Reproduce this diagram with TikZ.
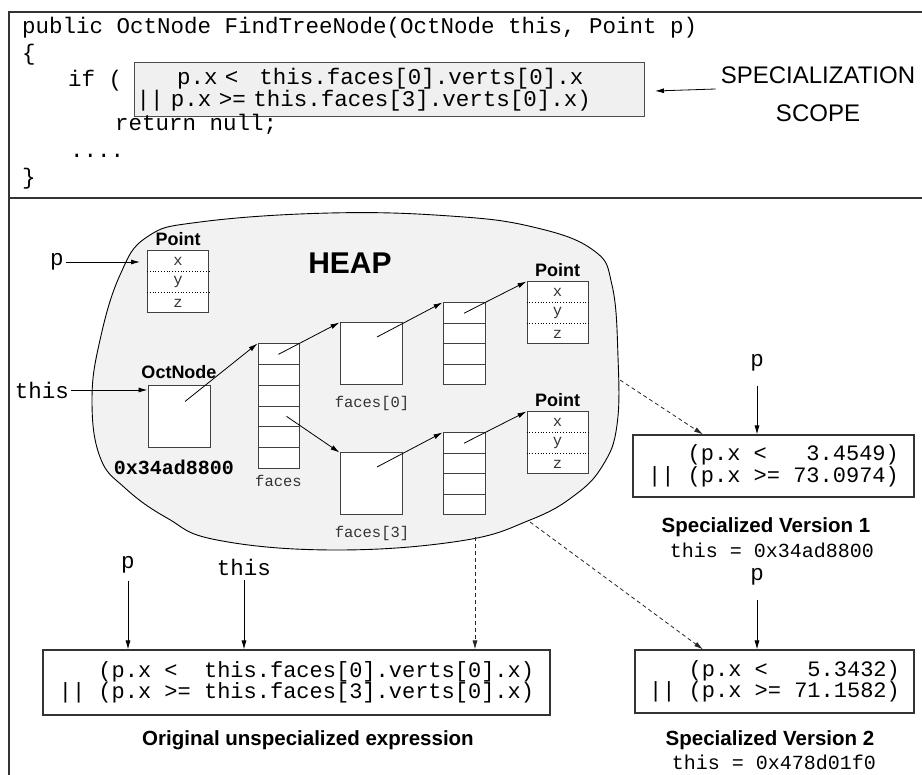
\documentclass[tikz,border=0pt]{standalone}
\usepackage{fontspec}
\setmainfont{Liberation Sans}
\setmonofont{Liberation Mono}
\usetikzlibrary{arrows.meta,positioning,calc}
\newcommand{\codesize}{\ttfamily\fontsize{22.5}{20}\selectfont}
\newcommand{\exprsize}{\ttfamily\fontsize{22}{21.5}\selectfont}
\newcommand{\fieldsize}{\ttfamily\fontsize{15.5}{16}\selectfont}
\newcommand{\addrsize}{\ttfamily\fontsize{20}{22}\selectfont}
\newcommand{\objsize}{\bfseries\fontsize{18}{20}\selectfont}
\newcommand{\capsize}{\bfseries\fontsize{20.5}{22}\selectfont}
\tikzstyle{frame}=[draw=black!80, line width=1.2pt]
\tikzstyle{codeline}=[anchor=base west, inner sep=0pt, font=\codesize]
\tikzstyle{varlbl}=[inner sep=2pt, font=\codesize]
\tikzstyle{scopebox}=[draw=black!70, line width=1pt, fill=black!6, font=\codesize, align=left, text width=506pt, inner xsep=2pt, minimum height=54pt]
\tikzstyle{exprbox}=[draw=black!80, line width=1.1pt, fill=white, font=\exprsize, align=left]
\tikzstyle{heap}=[draw=black, line width=0.9pt, fill=black!5]
\tikzstyle{obj}=[draw=black!75, fill=white, line width=1pt, minimum width=62pt, minimum height=62pt, inner sep=0pt]
\tikzstyle{ptbox}=[obj, minimum width=61pt]
\tikzstyle{cell}=[draw=black!75, fill=white, line width=1pt, minimum width=41pt, minimum height=20.67pt, inner sep=0pt]
\tikzstyle{fieldtxt}=[inner sep=0pt, font=\fieldsize, text=black!80]
\tikzstyle{objlbl}=[inner sep=0pt, font=\objsize]
\tikzstyle{caption}=[inner sep=0pt, font=\capsize]
\tikzstyle{addr}=[inner sep=0pt, font=\addrsize]
\tikzstyle{arr}=[-{Latex[length=9pt,width=5pt]}, line width=0.8pt]
\tikzstyle{dasharr}=[arr, dash pattern=on 4pt off 3pt, draw=black!85]

\begin{document}
\begin{tikzpicture}[x=1pt,y=-1pt]
\useasboundingbox (0,0) rectangle (922,775);
% frame round the code and the heap
\draw[frame] (922,12) -- (9,12) -- (9,775);
\draw[frame] (9,198) -- (922,198);

% source code
\node[codeline] (sig) at (22,34) {public OctNode FindTreeNode(OctNode this, Point p)};
\node[codeline] (lbrace) at (22,61) {\{};
\node[scopebox, anchor=north west] (scope) at (134,62) {\phantom{000}p.x <\phantom{0} this.faces[0].verts[0].x\\|| p.x >= this.faces[3].verts[0].x)};
\node[codeline] (iftxt) at (68,87) {if (};
\node[codeline] (retn) at (115,131) {return null;};
\node[codeline] (dots) at (70,158) {....};
\node[codeline] (rbrace) at (22,185) {\}};
\node[font=\fontsize{24}{38}\selectfont, align=center, inner sep=0pt] (spec) at (818,94) {SPECIALIZATION\\SCOPE};
\draw[arr] ([xshift=-5pt,yshift=5pt]spec.west) -- ([xshift=10pt,yshift=-1.5pt]scope.east);

% heap
\draw[heap] plot[smooth cycle, tension=0.7] coordinates {(147,237) (200,222) (330,213) (450,216) (533,227) (593,250) (612,285) (618,357) (617,425) (603,465) (575,495) (530,520) (460,541) (333,550) (217,540) (167,518) (125,488) (100,457) (92,400) (100,340) (120,275)};
\node[inner sep=0pt, font=\bfseries\fontsize{30}{32}\selectfont] (heaplbl) at (350,263) {HEAP};

\foreach \nm/\cx/\cy in {pa/178/282, pb/557.5/313, pc/557.5/443}{
  \node[ptbox] (\nm) at (\cx,\cy) {};
  \node[objlbl, above=4.5pt of \nm] (\nm-lbl) {Point};
  \draw[dotted, line width=0.8pt] ($(\nm.north west)!0.333!(\nm.south west)$) -- ($(\nm.north east)!0.333!(\nm.south east)$);
  \draw[dotted, line width=0.8pt] ($(\nm.north west)!0.667!(\nm.south west)$) -- ($(\nm.north east)!0.667!(\nm.south east)$);
  \node[fieldtxt] (\nm-x) at ($(\nm.north)!0.1667!(\nm.south)$) {x};
  \node[fieldtxt] (\nm-y) at ($(\nm.north)!0.5!(\nm.south)$) {y};
  \node[fieldtxt] (\nm-z) at ($(\nm.north)!0.8333!(\nm.south)$) {z};
}

\node[obj] (oct) at (179,416.5) {};
\node[objlbl, above=6pt of oct] (octlbl) {OctNode};
\node[addr, font=\addrsize\bfseries] (octaddr) at (174,467) {0x34ad8800};

\foreach \i in {0,...,5}
  \node[cell] (faces\i) at (278.5,354.33+20.67*\i) {};
\node[fieldtxt] (faceslbl) at (278.5,481) {faces};

\node[obj] (f0) at (371,354) {};
\node[fieldtxt] (f0lbl) at (372,403) {faces[0]};
\node[obj] (f3) at (371,484) {};
\node[fieldtxt] (f3lbl) at (372,533) {faces[3]};

\foreach \i in {0,...,3}{
  \node[cell, minimum width=42pt, minimum height=20.5pt] (fa\i) at (464,313.25+20.5*\i) {};
  \node[cell, minimum width=42pt, minimum height=20.5pt] (fb\i) at (464,443.25+20.5*\i) {};
}

% pointers
\node[varlbl] (pvar) at (57,262) {p};
\node[varlbl] (thisvar) at (42,390) {this};
\draw[arr, shorten >=7pt] (pvar) -- (pvar -| pa.west);
\draw[arr] (thisvar) -- (thisvar -| oct.west);
\draw[arr] ([shift={(6pt,15pt)}]oct.center) -- (faces0.north west);
\draw[arr] (faces0.center) -- (f0.north west);
\draw[arr] ([xshift=8pt]faces3.center) -- (f3.north west);
\draw[arr] ([shift={(6pt,17pt)}]f0.center) -- (fa0.north west);
\draw[arr] ([shift={(6pt,17pt)}]f3.center) -- (fb0.north west);
\draw[arr] (fa0.center) -- (pb.north west);
\draw[arr] (fb0.center) -- (pc.north west);

% specialized versions
\node[exprbox, minimum width=281pt, minimum height=62pt] (sv1) at (773.5,466) {\phantom{000}(p.x <\phantom{00} 3.4549)\\|| (p.x >= 73.0974)};
\node[varlbl] (p1) at (757,363) {p};
\draw[arr, shorten <=12pt] (p1) -- (p1 |- sv1.north);
\node[caption] (sv1cap) at (766,527) {Specialized Version 1};
\node[addr] (sv1this) at (772,550) {this = 0x34ad8800};

\node[exprbox, minimum width=279pt, minimum height=63pt] (sv2) at (774.5,681.5) {\phantom{000}(p.x <\phantom{00} 5.3432)\\|| (p.x >= 71.1582)};
\node[varlbl] (p2) at (757,577) {p};
\draw[arr, shorten <=12pt] (p2) -- (p2 |- sv2.north);
\node[caption] (sv2cap) at (770,740) {Specialized Version 2};
\node[addr] (sv2this) at (774,762) {this = 0x478d01f0};

% original expression
\node[exprbox, minimum width=507pt, minimum height=65pt] (orig) at (296.5,682.5) {\phantom{000}(p.x <\phantom{0} this.faces[0].verts[0].x)\\|| (p.x >= this.faces[3].verts[0].x)};
\node[varlbl] (pbot) at (128,565) {p};
\node[varlbl] (thisbot) at (244,567) {this};
\draw[arr, shorten <=5pt] (pbot) -- (pbot |- orig.north);
\draw[arr, shorten <=3pt] (thisbot) -- (thisbot |- orig.north);
\node[caption] (origcap) at (308,740) {Original unspecialized expression};

% from the heap to the expressions
\coordinate (h1) at (620,380);
\coordinate (h2) at (530,522);
\coordinate (h3) at (475,537);
\draw[dasharr] (h1) -- ([xshift=-70.5pt]sv1.north);
\draw[dasharr] (h2) -- ([xshift=-71.5pt]sv2.north);
\draw[dasharr] (h3) -- (h3 |- orig.north);
\end{tikzpicture}
\end{document}
